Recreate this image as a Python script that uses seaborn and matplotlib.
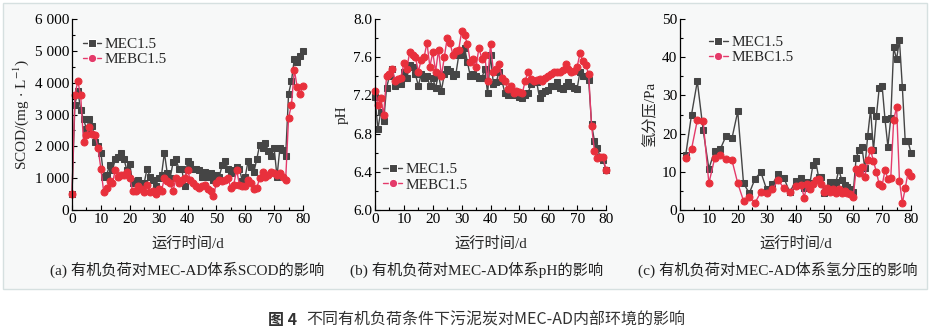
import numpy as np
import pandas as pd
import matplotlib
matplotlib.use("Agg")
import matplotlib.pyplot as plt
from matplotlib.patches import Rectangle
from matplotlib.ticker import MultipleLocator, FuncFormatter
import seaborn as sns

# ---------------- data ----------------
days_ab = list(range(0, 81))
scod_mec = [500, 3300, 3750, 3150, 2850, 2550, 2850, 2650, 2150, 2000, 1800,
            1050, 1100, 1400, 1250, 1600, 1650, 1780, 1600, 1250, 1450,
            850, 900, 950, 800, 850, 1300, 1050, 950, 750, 1000,
            1100, 1800, 1150, 1000, 1500, 1600, 1300, 1300, 750, 1550,
            1450, 1300, 1300, 1250, 1050, 1200, 1050, 1150, 950, 1100,
            1050, 1400, 1550, 1300, 1150, 1250, 1350, 1300, 900, 1050,
            1550, 1350, 1200, 1600, 2050, 1950, 2100, 1850, 1700, 1950,
            1050, 1950, 1900, 1700, 3650, 4050, 4750, 4650, 4850, 5000]
scod_mebc = [500, 3600, 4050, 3600, 2150, 2350, 2600, 2400, 2350, 1950, 1300,
             550, 700, 900, 850, 1250, 1050, 1100, 1100, 1200, 1000,
             600, 600, 750, 650, 550, 800, 550, 600, 500, 650,
             600, 1000, 900, 850, 600, 1000, 850, 950, 1000, 1250,
             950, 850, 750, 700, 750, 800, 650, 600, 450, 850,
             950, 900, 950, 1000, 700, 800, 1250, 800, 750, 750,
             950, 850, 650, 700, 1000, 1200, 1050, 1100, 1200, 1150,
             1100, 1150, 1050, 950, 2900, 3300, 4400, 3850, 3650, 3900]
ph_mec = [7.18, 6.85, 7.03, 6.93, 7.28, 7.40, 7.48, 7.30, 7.35, 7.32, 7.45,
          7.38, 7.52, 7.50, 7.42, 7.30, 7.42, 7.38, 7.40, 7.30, 7.38,
          7.28, 7.42, 7.25, 7.42, 7.48, 7.46, 7.40, 7.42, 7.62, 7.62,
          7.70, 7.55, 7.40, 7.42, 7.40, 7.38, 7.38, 7.48, 7.22, 7.62,
          7.32, 7.34, 7.45, 7.35, 7.22, 7.20, 7.24, 7.20, 7.20, 7.18,
          7.17, 7.20, 7.22, 7.32, 7.34, 7.34, 7.17, 7.22, 7.25, 7.26,
          7.30, 7.30, 7.34, 7.28, 7.27, 7.30, 7.34, 7.30, 7.28, 7.27,
          7.45, 7.40, 7.40, 7.36, 6.90, 6.72, 6.65, 6.55, 6.52, 6.42]
ph_mebc = [7.25, 7.10, 7.17, 7.00, 7.40, 7.42, 7.48, 7.35, 7.37, 7.38, 7.54,
           7.48, 7.65, 7.62, 7.60, 7.45, 7.57, 7.60, 7.75, 7.50, 7.65,
           7.45, 7.68, 7.40, 7.60, 7.80, 7.75, 7.62, 7.66, 7.68, 7.87,
           7.83, 7.74, 7.55, 7.58, 7.50, 7.70, 7.58, 7.62, 7.35, 7.74,
           7.45, 7.48, 7.53, 7.38, 7.35, 7.27, 7.30, 7.22, 7.25, 7.24,
           7.22, 7.35, 7.45, 7.37, 7.35, 7.36, 7.37, 7.35, 7.38, 7.40,
           7.42, 7.44, 7.45, 7.45, 7.47, 7.53, 7.48, 7.45, 7.46, 7.50,
           7.64, 7.56, 7.52, 7.42, 6.88, 6.62, 6.54, 6.55, 6.55, 6.42]
days_c = [2, 4, 6, 8, 10, 12, 14, 16, 18, 20, 22, 24, 26, 28, 30, 32, 34, 36, 38, 40, 42,
          43, 44, 45, 46, 47, 48, 49, 50, 51, 52, 53, 54, 55, 56, 57, 58, 59, 60,
          61, 62, 63, 64, 65, 66, 67, 68, 69, 70,
          71, 72, 73, 74, 75, 76, 77, 78, 79, 80]
h2_mec = [14.5, 25, 33.7, 21, 10.8, 15.5, 16, 19.5, 18.8, 25.8, 7.0, 4.4, 8.2, 9.9, 5.4,
          6.7, 9.5, 8.4, 4.6, 7.6, 8.4,
          5.8, 7.3, 7.0, 11.7, 12.8, 8.6, 8.7, 4.5, 5.0, 7.3, 6.4, 7.3, 10.5, 7.9, 6.6, 6.1, 5.5, 4.6,
          13.7, 15.6, 16.4, 11.0, 19.4, 26.3, 15.6, 24.5, 32.0, 32.5,
          23.7, 16.6, 24.1, 42.6, 39.4, 44.5, 32.2, 18.0, 18.0, 14.9]
h2_mebc = [13.5, 16, 23.5, 23.3, 7, 13.5, 14.3, 13.4, 13, 7, 2.4, 3.5, 1.9, 4.7, 4.5,
           5.4, 7.8, 5.7, 4.6, 6.3, 6.5,
           3.2, 6.8, 5.5, 6.8, 7.9, 8.1, 6.7, 4.6, 5.7, 4.6, 5.5, 4.4, 5.5, 4.4, 5.1, 4.4, 4.2, 3.5,
           10.7, 9.6, 11.2, 8.6, 13.1, 15.7, 12.8, 10.0, 6.7, 6.4,
           10.5, 8.1, 8.5, 23.5, 27.0, 7.7, 1.8, 5.7, 10.0, 8.8]

series_names = ["MEC1.5", "MEBC1.5"]
xlabel = "运行时间/d"
captions = ["(a) 有机负荷对MEC-AD体系SCOD的影响",
            "(b) 有机负荷对MEC-AD体系pH的影响",
            "(c) 有机负荷对MEC-AD体系氢分压的影响"]
fig_title_bold = "图 4"
fig_title = "不同有机负荷条件下污泥炭对MEC-AD内部环境的影响"

# ---------------- style ----------------
sns.set_theme(style="ticks")
plt.rcParams["font.family"] = ["Liberation Serif", "Noto Sans CJK SC"]
plt.rcParams["mathtext.fontset"] = "stix"
plt.rcParams["axes.unicode_minus"] = False

GRAY = "#454545"
RED_M = "#e8303c"
RED_L = "#e43a6a"
FS = 11

fig = plt.figure(figsize=(9.3, 3.31), dpi=100)
W, H = 930, 331
# light panel background
fig.patches.append(Rectangle((3 / W, 1 - 289 / H), 924 / W, 286 / H, transform=fig.transFigure,
                             facecolor="#f7f8f8", edgecolor="#d6e0e0", lw=1.0, zorder=-5))

def make_df(x, y1, y2):
    return pd.concat([
        pd.DataFrame({"x": x, "y": y1, "s": series_names[0]}),
        pd.DataFrame({"x": x, "y": y2, "s": series_names[1]}),
    ])

panels = [
    dict(left=72, df=make_df(days_ab, scod_mec, scod_mebc), ylim=(0, 6000), major=1000, minor=500,
         ylabel=r"SCOD/(mg $\cdot$ L$^{-1}$)", fmt=lambda v, p: f"{int(round(v)):,}".replace(",", " "),
         leg=dict(loc="upper left", bbox_to_anchor=(0.0, 0.96)), cap_x=187),
    dict(left=375, df=make_df(days_ab, ph_mec, ph_mebc), ylim=(6.0, 8.0), major=0.4, minor=0.2,
         ylabel="pH", fmt=lambda v, p: f"{v:.1f}",
         leg=dict(loc="lower left", bbox_to_anchor=(-0.01, 0.04)), cap_x=477),
    dict(left=680, df=make_df(days_c, h2_mec, h2_mebc), ylim=(0, 50), major=10, minor=5,
         ylabel="氢分压/Pa", fmt=lambda v, p: f"{int(round(v))}",
         leg=dict(loc="upper left", bbox_to_anchor=(0.08, 0.97)), cap_x=778),
]

for i, p in enumerate(panels):
    ax = fig.add_axes([p["left"] / W, 1 - 210 / H, 231 / W, 191 / H])
    ax.set_facecolor("none")
    sns.lineplot(data=p["df"], x="x", y="y", hue="s", style="s",
                 palette={series_names[0]: GRAY, series_names[1]: RED_L},
                 markers={series_names[0]: "s", series_names[1]: "o"},
                 dashes=False, lw=1.0, ax=ax, sort=False, clip_on=False)
    for ln, mc in zip(ax.lines[:2], [GRAY, RED_M]):
        ln.set_markerfacecolor(mc)
        ln.set_markeredgecolor(mc)
        ln.set_markersize(4.5 if mc == GRAY else 5)
        ln.set_clip_on(False)
    ax.set_xlim(0, 80)
    ax.set_ylim(*p["ylim"])
    ax.xaxis.set_major_locator(MultipleLocator(10))
    ax.xaxis.set_minor_locator(MultipleLocator(5))
    ax.yaxis.set_major_locator(MultipleLocator(p["major"]))
    ax.yaxis.set_minor_locator(MultipleLocator(p["minor"]))
    ax.yaxis.set_major_formatter(FuncFormatter(p["fmt"]))
    ax.tick_params(which="both", direction="in", labelsize=FS, colors="black", width=0.8, pad=2)
    ax.tick_params(which="major", length=3.5)
    ax.tick_params(which="minor", length=2)
    for s in ["top", "right"]:
        ax.spines[s].set_visible(False)
    for s in ["left", "bottom"]:
        ax.spines[s].set_color("black")
        ax.spines[s].set_linewidth(0.9)
    ax.set_xlabel(xlabel, fontsize=FS, labelpad=8)
    ax.set_ylabel(p["ylabel"], fontsize=FS, labelpad=3)
    handles, labels = ax.get_legend_handles_labels()
    ax.legend(handles=handles[:2], labels=labels[:2], frameon=False, fontsize=FS,
              handlelength=1.2, handletextpad=0.25, labelspacing=0.1, borderpad=0.2, **p["leg"])
    fig.text(p["cap_x"] / W, 1 - 270 / H, captions[i], ha="center", va="center",
             fontsize=FS, color="#222222")

fig.text(268 / W, 1 - 320 / H, fig_title_bold, fontsize=11.5, fontweight="bold",
         family=["Noto Sans CJK SC"], color="#333333", va="center", ha="left")
fig.text(306 / W, 1 - 320 / H, fig_title, fontsize=11.5,
         family=["Noto Sans CJK SC"], color="#333333", va="center", ha="left")

fig.savefig("out.png", dpi=100)
